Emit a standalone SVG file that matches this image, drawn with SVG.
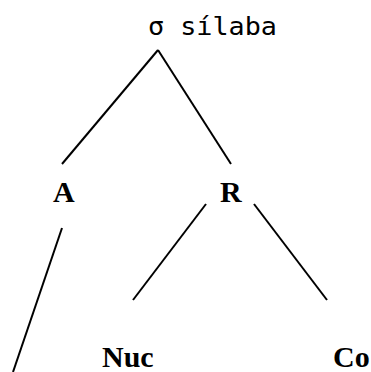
<svg xmlns="http://www.w3.org/2000/svg" width="371" height="372" viewBox="0 0 371 372">
  <style>
    .edge { stroke: #000; stroke-width: 2; fill: none; }
    .lbl { font-family: "Liberation Serif", "Times New Roman", serif; font-weight: bold; font-size: 30px; fill: #000; }
    .top { font-family: "DejaVu Sans Mono", "Liberation Mono", monospace; font-size: 25px; fill: #000; }
  </style>
  <rect width="371" height="372" fill="#fff"/>
  <g id="connectors">
    <line class="edge" x1="158" y1="50" x2="62" y2="164"/>
    <line class="edge" x1="158" y1="50" x2="231" y2="164"/>
    <line class="edge" x1="62" y1="228" x2="13" y2="372"/>
    <line class="edge" x1="206" y1="204" x2="133" y2="300"/>
    <line class="edge" x1="254" y1="204" x2="327" y2="300"/>
  </g>
  <g id="syllable">
    <text class="top" x="148" y="35" textLength="129" lengthAdjust="spacingAndGlyphs">σ sílaba</text>
  </g>
  <g id="onset">
    <text class="lbl" x="53" y="202">A</text>
  </g>
  <g id="rhyme">
    <text class="lbl" x="220" y="202">R</text>
  </g>
  <g id="nucleus">
    <text class="lbl" x="102" y="367">Nuc</text>
  </g>
  <g id="coda">
    <text class="lbl" x="333" y="367">Co</text>
  </g>
</svg>
